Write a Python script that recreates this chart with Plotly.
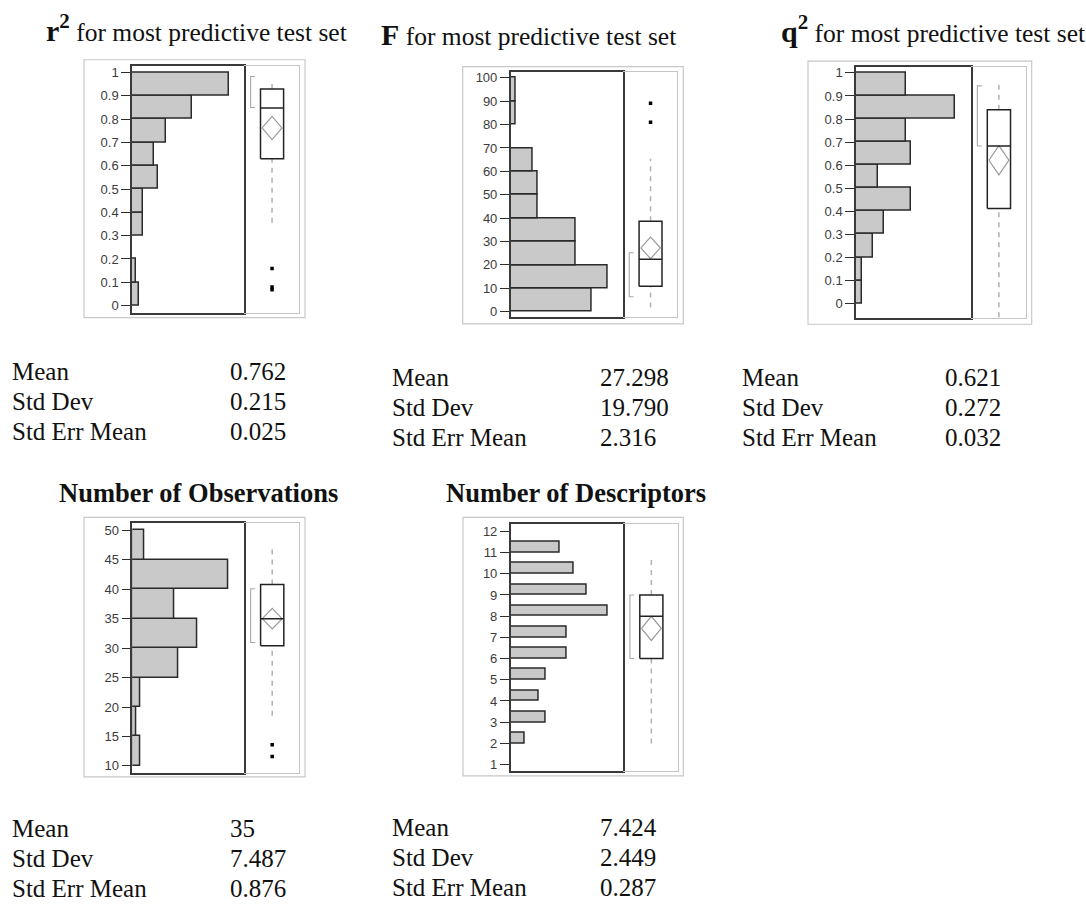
import plotly.graph_objects as go

W, H = 1086, 904

# ---------------- data ----------------
r2_bin_lo = [0.0, 0.1, 0.2, 0.3, 0.4, 0.5, 0.6, 0.7, 0.8, 0.9]
r2_counts = [2, 1, 0, 3, 3, 7, 6, 9, 16, 26]
r2_quartiles = [0.630, 0.848, 0.929]
r2_whiskers = [0.355, 0.960]
r2_outliers = [0.159, 0.080, 0.068]
r2_short_half = [0.850, 0.983]
r2_mean, r2_sd, r2_sem = 0.762, 0.215, 0.025
r2_stats_text = ["0.762", "0.215", "0.025"]
r2_ticks = [0, 0.1, 0.2, 0.3, 0.4, 0.5, 0.6, 0.7, 0.8, 0.9, 1]
r2_ticklabels = ["0", "0.1", "0.2", "0.3", "0.4", "0.5", "0.6", "0.7", "0.8", "0.9", "1"]

F_bin_lo = [0, 10, 20, 30, 40, 50, 60, 70, 80, 90]
F_counts = [15, 18, 12, 12, 5, 5, 4, 0, 1, 1]
F_quartiles = [10.9, 22.4, 38.7]
F_whiskers = [1.8, 65.4]
F_outliers = [89.1, 81.0]
F_short_half = [6.4, 25.2]
F_mean, F_sd, F_sem = 27.298, 19.790, 2.316
F_stats_text = ["27.298", "19.790", "2.316"]
F_ticks = [0, 10, 20, 30, 40, 50, 60, 70, 80, 90, 100]
F_ticklabels = ["0", "10", "20", "30", "40", "50", "60", "70", "80", "90", "100"]

q2_bin_lo = [0.0, 0.1, 0.2, 0.3, 0.4, 0.5, 0.6, 0.7, 0.8, 0.9]
q2_counts = [1, 1, 3, 5, 10, 4, 10, 9, 18, 9]
q2_quartiles = [0.412, 0.683, 0.840]
q2_whiskers = [-0.06, 0.948]
q2_outliers = []
q2_short_half = [0.683, 0.944]
q2_mean, q2_sd, q2_sem = 0.621, 0.272, 0.032
q2_stats_text = ["0.621", "0.272", "0.032"]
q2_ticks = r2_ticks
q2_ticklabels = r2_ticklabels

obs_bin_lo = [10, 15, 20, 25, 30, 35, 40, 45]
obs_counts = [2, 1, 2, 12, 17, 11, 25, 3]
obs_quartiles = [30.4, 35.0, 40.8]
obs_whiskers = [18.5, 47.2]
obs_outliers = [13.6, 11.6]
obs_short_half = [30.95, 40.07]
obs_mean, obs_sd, obs_sem = 35.0, 7.487, 0.876
obs_stats_text = ["35", "7.487", "0.876"]
obs_ticks = [10, 15, 20, 25, 30, 35, 40, 45, 50]
obs_ticklabels = ["10", "15", "20", "25", "30", "35", "40", "45", "50"]

desc_values = [2, 3, 4, 5, 6, 7, 8, 9, 10, 11]
desc_counts = [2, 5, 4, 5, 8, 8, 14, 11, 9, 7]
desc_quartiles = [6.0, 8.0, 9.0]
desc_whiskers = [2.0, 10.85]
desc_outliers = []
desc_short_half = [6.0, 9.0]
desc_mean, desc_sd, desc_sem = 7.424, 2.449, 0.287
desc_stats_text = ["7.424", "2.449", "0.287"]
desc_ticks = [1, 2, 3, 4, 5, 6, 7, 8, 9, 10, 11, 12]
desc_ticklabels = ["1", "2", "3", "4", "5", "6", "7", "8", "9", "10", "11", "12"]

stat_labels = ["Mean", "Std Dev", "Std Err Mean"]

# ---------------- layout geometry (pixels) ----------------
SERIF = "Liberation Serif, Times New Roman, serif"
SANS = "Liberation Sans, Arial, sans-serif"
DARK = "#3a3a3a"
LIGHT = "#c4c4c4"

fig = go.Figure()
layout_axes = {}
shapes = []
annotations = []


def fx(p):
    return p / W


def fy(p):
    return 1 - p / H


def add_panel(k, bin_lo, bin_w, counts, quart, whisk, outl, short_half,
              mean, sem, ticks, ticklabels, geo):
    nh, nb = 2 * k - 1, 2 * k
    xh = "x" if nh == 1 else f"x{nh}"
    yh = "y" if nh == 1 else f"y{nh}"
    xb, yb = f"x{nb}", f"y{nb}"

    # histogram (horizontal bars)
    fig.add_trace(go.Bar(
        orientation="h",
        y=[lo + bin_w / 2 for lo in bin_lo], x=counts, width=bin_w,
        marker=dict(color="#c9c9c9", line=dict(color="#2a2a2a", width=1.5)),
        xaxis=xh, yaxis=yh, showlegend=False, hoverinfo="skip"))

    # box plot pieces in a 0..1 box-area axis
    L, R, C = 0.30, 0.72, 0.51
    q1, med, q3 = quart
    lo, hi = whisk
    fig.add_trace(go.Scatter(
        x=[C, C, None, C, C], y=[q3, hi, None, lo, q1], mode="lines",
        line=dict(color="#b0b0b0", width=1.5, dash="5px,5px"),
        xaxis=xb, yaxis=yb, showlegend=False, hoverinfo="skip", cliponaxis=True))
    ci = 1.99 * sem
    d = 0.03
    fig.add_trace(go.Scatter(
        x=[L + d, C, R - d, C, L + d], y=[mean, mean + ci, mean, mean - ci, mean],
        mode="lines", line=dict(color="#9a9a9a", width=1.2),
        xaxis=xb, yaxis=yb, showlegend=False, hoverinfo="skip"))
    fig.add_trace(go.Scatter(
        x=[L, R, R, L, L, None, L, R], y=[q1, q1, q3, q3, q1, None, med, med],
        mode="lines", line=dict(color="#222222", width=1.5),
        xaxis=xb, yaxis=yb, showlegend=False, hoverinfo="skip"))
    sl, sh = short_half
    fig.add_trace(go.Scatter(
        x=[0.20, 0.12, 0.12, 0.20], y=[sh, sh, sl, sl], mode="lines",
        line=dict(color="#a8a8a8", width=1.1),
        xaxis=xb, yaxis=yb, showlegend=False, hoverinfo="skip"))
    if outl:
        fig.add_trace(go.Scatter(
            x=[C] * len(outl), y=outl, mode="markers",
            marker=dict(color="black", size=3.5, symbol="square"),
            xaxis=xb, yaxis=yb, showlegend=False, hoverinfo="skip"))

    hx0, hx1, bx1, ty, by, xr, yr = (geo["hx0"], geo["hx1"], geo["bx1"], geo["top"],
                                     geo["bot"], geo["xr"], geo["yr"])
    ydom = [fy(by), fy(ty)]
    kx = "xaxis" if nh == 1 else f"xaxis{nh}"
    ky = "yaxis" if nh == 1 else f"yaxis{nh}"
    layout_axes[kx] = dict(domain=[fx(hx0), fx(hx1)], range=xr, anchor=yh,
                           showline=True, mirror=True, linecolor=DARK, linewidth=1.5,
                           showgrid=False, zeroline=False, showticklabels=False, ticks="",
                           fixedrange=True)
    layout_axes[ky] = dict(domain=ydom, range=yr, anchor=xh,
                           showline=True, mirror=True, linecolor=DARK, linewidth=1.5,
                           showgrid=False, zeroline=False, ticks="outside", ticklen=9,
                           tickwidth=1.4, tickcolor="#2e2e2e", tickvals=ticks,
                           ticktext=ticklabels,
                           tickfont=dict(family=SANS, size=13, color="#3c3c3c"),
                           fixedrange=True)
    layout_axes[f"xaxis{nb}"] = dict(domain=[fx(hx1), fx(bx1)], range=[0, 1], anchor=yb,
                                     showline=True, mirror=True, linecolor=LIGHT,
                                     linewidth=1.2, showgrid=False, zeroline=False,
                                     showticklabels=False, ticks="", fixedrange=True)
    layout_axes[f"yaxis{nb}"] = dict(domain=ydom, range=yr, anchor=xb, side="right",
                                     showline=True, linecolor=LIGHT, linewidth=1.2,
                                     showgrid=False, zeroline=False, showticklabels=False,
                                     ticks="", fixedrange=True)
    o = geo["outer"]
    shapes.append(dict(type="rect", xref="paper", yref="paper",
                       x0=fx(o[0]), x1=fx(o[2]), y0=fy(o[3]), y1=fy(o[1]),
                       line=dict(color="#c8c8c8", width=1.2), layer="below"))


geos = [
    dict(hx0=132, hx1=244, bx1=299, top=64, bot=312, xr=[0, 30.0], yr=[-0.03, 1.029],
         outer=(84, 58, 305, 317)),
    dict(hx0=510.7, hx1=622.7, bx1=677.3, top=70.7, bot=316.7, xr=[0, 20.8],
         yr=[-2.4, 102.3], outer=(462.7, 65, 683.3, 323.3)),
    dict(hx0=856, hx1=970.7, bx1=1026, top=65, bot=317.7, xr=[0, 20.8],
         yr=[-0.065, 1.027], outer=(808, 59.3, 1031.7, 323.7)),
    dict(hx0=132.3, hx1=244, bx1=299.3, top=523.3, bot=774, xr=[0, 29],
         yr=[8.87, 51.25], outer=(84, 517.7, 305, 778.3)),
    dict(hx0=510.7, hx1=623.3, bx1=678.3, top=524, bot=772.7, xr=[0, 16.2],
         yr=[0.685, 12.36], outer=(463, 517.7, 683.3, 777.3)),
]

add_panel(1, r2_bin_lo, 0.1, r2_counts, r2_quartiles, r2_whiskers, r2_outliers,
          r2_short_half, r2_mean, r2_sem, r2_ticks, r2_ticklabels, geos[0])
add_panel(2, F_bin_lo, 10, F_counts, F_quartiles, F_whiskers, F_outliers,
          F_short_half, F_mean, F_sem, F_ticks, F_ticklabels, geos[1])
add_panel(3, q2_bin_lo, 0.1, q2_counts, q2_quartiles, q2_whiskers, q2_outliers,
          q2_short_half, q2_mean, q2_sem, q2_ticks, q2_ticklabels, geos[2])
add_panel(4, obs_bin_lo, 5, obs_counts, obs_quartiles, obs_whiskers, obs_outliers,
          obs_short_half, obs_mean, obs_sem, obs_ticks, obs_ticklabels, geos[3])
add_panel(5, desc_values, 0.5, desc_counts, desc_quartiles, desc_whiskers, desc_outliers,
          desc_short_half, desc_mean, desc_sem, desc_ticks, desc_ticklabels, geos[4])


def text(x, y, s, size=25, anchor="left", color="#111"):
    annotations.append(dict(x=fx(x), y=fy(y), xref="paper", yref="paper", text=s,
                            showarrow=False, xanchor=anchor, yanchor="middle",
                            font=dict(family=SERIF, size=size, color=color)))


# titles
text(196, 26, '<span style="font-size:30px"><b>r<sup>2</sup></b></span> for most predictive test set',
     size=25.5, anchor="center")
text(528, 33, '<span style="font-size:30px"><b>F</b></span> for most predictive test set',
     size=25.5, anchor="center")
text(933, 27, '<span style="font-size:30px"><b>q<sup>2</sup></b></span> for most predictive test set',
     size=25.5, anchor="center")
text(198, 493, "<b>Number of Observations</b>", size=26.5, anchor="center")
text(576, 493, "<b>Number of Descriptors</b>", size=26.5, anchor="center")

# summary statistics
stat_blocks = [
    (10, 228, [371, 401, 431], r2_stats_text),
    (390, 598, [377, 407, 437], F_stats_text),
    (740, 943, [377, 407, 437], q2_stats_text),
    (10, 228, [830, 860, 890], obs_stats_text),
    (390, 598, [829, 859, 889], desc_stats_text),
]
for lx, vx, ys, vals in stat_blocks:
    for lab, val, yy in zip(stat_labels, vals, ys):
        text(lx, yy, lab)
        text(vx, yy, val)

fig.update_layout(
    width=W, height=H, margin=dict(l=0, r=0, t=0, b=0),
    paper_bgcolor="white", plot_bgcolor="white", bargap=0,
    shapes=shapes, annotations=annotations, showlegend=False,
    **layout_axes)

fig.write_html("out.html", config={"displayModeBar": False},
               post_script="document.body.style.margin='0px';document.body.style.overflow='hidden';")
